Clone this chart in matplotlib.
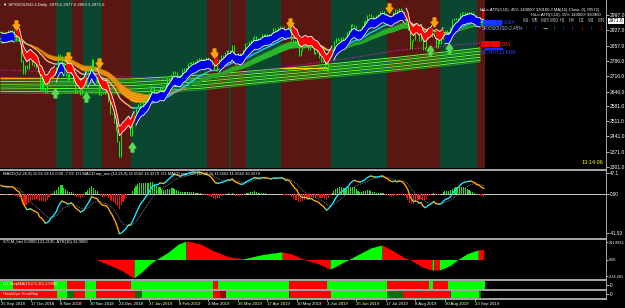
import numpy as np
import matplotlib
matplotlib.use("Agg")
import matplotlib.pyplot as plt
from matplotlib.path import Path
from matplotlib.lines import Line2D
from matplotlib.patches import Rectangle

W, H = 625, 308
PX = 1.85  # pixels per daily bar in the reference
plt.rcParams['font.family'] = ['Liberation Sans', 'DejaVu Sans']

# closes before the first visible bar, only used to warm the averages up
warmup_close = [2821.93, 2839.96, 2818.37, 2840.69, 2850.13, 2857.05, 2862.96, 2861.82,
                2856.98, 2874.69, 2896.74, 2897.52, 2914.04, 2901.13, 2901.52, 2900.00,
                2896.72, 2888.60, 2878.05, 2871.68, 2877.13, 2887.89, 2888.92, 2904.18,
                2904.98, 2888.80, 2904.31, 2907.95, 2930.75, 2929.67, 2919.37]

# SPX500USD daily closes, 25 Sep 2018 .. 30 Sep 2019
close = [
    2915.56, 2905.97, 2914.00, 2913.98,
    2924.59, 2923.43, 2925.51, 2901.61, 2885.57, 2884.43, 2880.34, 2785.68, 2728.37, 2767.13,
    2750.79, 2809.92, 2809.21, 2768.78, 2767.78, 2755.88, 2740.69, 2656.10, 2705.57, 2658.69,
    2641.25, 2682.63, 2711.74,
    2740.37, 2723.06, 2738.31, 2755.45, 2813.89, 2806.83, 2781.01, 2726.22, 2722.18, 2701.58,
    2730.20, 2736.27, 2690.73, 2641.89, 2649.93, 2650.00, 2632.56, 2673.45, 2682.17, 2743.79,
    2737.80, 2760.17,
    2790.37, 2700.06, 2695.00, 2695.95, 2633.08, 2637.72, 2636.78, 2651.07, 2650.54, 2599.95,
    2545.94, 2546.16, 2506.96, 2467.42, 2416.62, 2351.10, 2467.70, 2488.83, 2485.74, 2506.85,
    2510.03, 2447.89, 2531.94, 2549.69, 2574.41, 2584.96, 2596.64, 2596.26, 2582.61, 2610.30,
    2616.10, 2635.96, 2670.71, 2668.00, 2632.90, 2638.70, 2642.33, 2664.76, 2643.85, 2640.00,
    2681.05, 2704.10,
    2706.53, 2724.87, 2737.70, 2731.61, 2706.05, 2707.88, 2709.80, 2744.73, 2753.03, 2745.73,
    2775.60, 2777.00, 2779.76, 2784.70, 2774.88, 2792.67, 2796.11, 2793.90, 2792.38, 2784.49,
    2803.69, 2792.81, 2789.65, 2771.45, 2748.93, 2743.07, 2783.30, 2791.52, 2810.92, 2808.48,
    2822.48, 2832.94, 2832.57, 2824.23, 2854.88, 2800.71, 2798.36, 2818.46, 2805.37, 2815.44,
    2834.40,
    2867.19, 2867.24, 2873.40, 2879.39, 2892.74, 2895.77, 2878.20, 2888.21, 2888.32, 2907.41,
    2905.58, 2907.06, 2900.45, 2905.03, 2907.97, 2933.68, 2927.25, 2926.17, 2939.88, 2943.03,
    2945.83,
    2923.73, 2917.52, 2945.64, 2932.47, 2884.05, 2879.42, 2870.72, 2881.40, 2811.87, 2834.41,
    2850.96, 2876.32, 2859.53, 2840.23, 2864.36, 2856.27, 2822.24, 2826.06, 2830.00, 2802.39,
    2783.02, 2788.86, 2752.06,
    2744.45, 2803.27, 2826.15, 2843.49, 2873.34, 2886.73, 2885.72, 2879.84, 2891.64, 2886.98,
    2889.67, 2917.75, 2926.46, 2954.18, 2950.46, 2945.35, 2917.38, 2913.78, 2924.92, 2941.76,
    2964.33, 2973.01, 2995.82, 2997.00, 2990.41, 2975.95, 2979.63, 2993.07, 2999.91, 3013.77,
    3014.30, 3004.04, 2984.42, 2995.11, 2976.61, 2985.03, 3005.47, 3019.56, 3003.67, 3025.86,
    3020.97, 3013.18, 2980.38,
    2953.56, 2932.05, 2844.74, 2881.77, 2883.98, 2938.09, 2918.65, 2882.70, 2926.32, 2840.60,
    2847.60, 2888.68, 2923.65, 2900.51, 2924.43, 2922.95, 2847.11, 2878.38, 2869.16, 2887.94,
    2924.58, 2926.46,
    2915.00, 2906.27, 2937.78, 2976.00, 2978.71, 2978.43, 2979.39, 3000.93, 3009.57, 3007.39,
    2997.96, 3005.70, 3006.73, 3006.79, 2992.07, 2991.78, 2966.60, 2984.87, 2977.62, 2961.79,
    2971.60]

date_pos = [0, 16, 32, 48, 64, 80, 96, 112, 128, 144, 160, 176, 192, 208, 224, 240, 256]
date_labels = ["25 Sep 2018", "17 Oct 2018", "8 Nov 2018", "30 Nov 2018", "24 Dec 2018",
               "17 Jan 2019", "8 Feb 2019", "4 Mar 2019", "26 Mar 2019", "17 Apr 2019",
               "10 May 2019", "3 Jun 2019", "25 Jun 2019", "17 Jul 2019", "8 Aug 2019",
               "30 Aug 2019", "23 Sep 2019"]
price_ticks = [2997.0, 2927.0, 2857.0, 2786.0, 2716.0, 2646.0, 2581.0, 2511.0, 2441.0,
               2371.0, 2301.0]

# trend background (r = dark red, g = dark green)
band_start = [0, 30, 39, 45, 55, 71, 112, 124, 125, 133, 152, 179, 209, 238, 258]
band_col = ['r', 'g', 'r', 'g', 'r', 'g', 'r', 'g', 'r', 'g', 'r', 'g', 'r', 'g', 'r']

# long moving-average fan, top and bottom edge
fan_bar = [0, 70, 108, 162, 216, 259]
fan_top = [2708, 2704, 2722, 2759, 2805, 2846]
fan_bot = [2640, 2635, 2654, 2699, 2741, 2782]

# DAY 200 EMA (magenta dotted)
ema200_bar = [0, 32, 54, 76, 90, 108, 135, 162, 189, 216, 259]
ema200_val = [2745, 2736, 2722, 2709, 2699, 2713, 2736, 2768, 2800, 2837, 2869]

# signal arrows
dn_bar = [8, 36, 53, 115, 156, 210, 234]
dn_price = [2951, 2805, 2777, 2823, 2960, 3029, 2965]
up_bar = [29, 46, 71, 232, 242]
up_price = [2640, 2621, 2393, 2837, 2846]

# STLM histogram outline
stlm_bar = [52, 59, 65, 70, 72, 76, 81, 84, 90, 96, 100, 101, 108, 115, 123, 130, 131, 141,
            152, 157, 164, 171, 178, 184, 188, 200, 206, 212, 218, 221, 228, 233, 234, 237,
            243, 247, 252, 258, 261]
stlm_val = [-5, -81, -150, -230, -256, -175, -54, 0, 95, 216, 256, 256, 216, 122, 40, 13, 10,
            67, 108, 81, 0, -54, -135, -54, 0, 162, 203, 122, 27, 0, -108, -148, -145, -148,
            -81, 0, 81, 135, 140]
stlm_seg_start = [52, 72, 100, 131, 152, 178, 206, 233, 234, 237, 258]
stlm_seg_col = ['r', 'g', 'r', 'g', 'r', 'g', 'r', 'g', 'r', 'g', 'r']

step_start = [0, 7, 29, 36, 46, 52, 71, 115, 118, 156, 177, 209, 232, 234, 242]
step_col = ['g', 'r', 'g', 'r', 'g', 'r', 'g', 'r', 'g', 'r', 'g', 'r', 'g', 'r', 'g']
heat_start = [0, 31, 36, 40, 46, 52, 73, 77, 115, 119, 122, 156, 157, 179, 209, 218, 243,
              244, 259]
heat_col = ['r', 'g', 'G', 'r', 'g', 'r', 'G', 'g', 'r', 'R', 'g', 'R', 'r', 'g', 'G', 'r',
            'G', 'g', 'G']

tf_labels = ["M1", "M5", "M15", "M30", "H1", "H4", "D1", "W1", "MN"]
tf_arrows = ["↑", "↑", "→", "↑", "↑", "↓", "↓", "↑", "↓"]
tf_colors = ["#2846ff", "#2846ff", "white", "#00bfff", "#2846ff", "#ff00ff", "#ff2020",
             "#2846ff", "#ff2020"]
tf_x = [526, 535, 545, 554, 563, 572, 582, 591, 601]

RIBBON_W = 42  # width of the HiLo ribbon in price points
BAND = {'r': '#5a1712', 'g': '#0b4631'}
ROW = {'r': '#ff0000', 'g': '#00ff00', 'G': '#0a6e0a', 'R': '#8b0000'}


def ema(v, n):
    out = np.empty(len(v))
    a = 2.0 / (n + 1)
    out[0] = v[0]
    for i in range(1, len(v)):
        out[i] = out[i - 1] + a * (v[i] - out[i - 1])
    return out


def runs(mask):
    out = []
    s = 0
    for i in range(1, len(mask) + 1):
        if i == len(mask) or mask[i] != mask[s]:
            out.append((s, i, bool(mask[s])))
            s = i
    return out


def rect(x0, y0, x1, y1):
    return [x0 / W, 1 - y1 / H, (x1 - x0) / W, (y1 - y0) / H]


def two_color(ax, x, y, mask, c1, c2, **kw):
    for s, e, up in runs(mask):
        sl = slice(max(s - 1, 0), e)
        ax.plot(x[sl], y[sl], color=c1 if up else c2, **kw)


full = np.array(warmup_close + close)
n0 = len(warmup_close)
c = np.array(close)
n = len(c)
x = np.arange(n)
E = {p: ema(full, p)[n0:] for p in [5, 13, 30, 40, 45, 50, 55, 60]}

fig = plt.figure(figsize=(W / 100, H / 100), dpi=100, facecolor='black')
ax = fig.add_axes(rect(0, 0, 606, 168))
axm = fig.add_axes(rect(0, 171, 606, 237), sharex=ax)
axs = fig.add_axes(rect(0, 240, 606, 279), sharex=ax)
axp = fig.add_axes(rect(0, 281, 606, 289), sharex=ax)
axh = fig.add_axes(rect(0, 290, 606, 298), sharex=ax)

for a in [ax, axm, axs, axp, axh]:
    a.set_facecolor('black')
    for sp in a.spines.values():
        sp.set_visible(False)
    a.tick_params(axis='x', bottom=False, labelbottom=False)
    a.tick_params(axis='y', left=False, labelleft=False, right=False, labelright=False)
ax.set_xlim(-0.5, 606 / PX - 0.5)

# ---- main chart ----
ax.set_ylim(2296.4, 3065.7)
ends = band_start[1:] + [n]
for s, e, col in zip(band_start, ends, band_col):
    ax.axvspan(s - 0.5, e - 0.5, color=BAND[col], lw=0, zorder=0)

fan_cols = ['#66ff33', '#1f9a1f']
for k in range(10):
    f = k / 9
    vals = np.array(fan_top) + (np.array(fan_bot) - np.array(fan_top)) * f
    ax.plot(fan_bar, vals, color=fan_cols[k % 2], lw=0.7, zorder=1)
ax.plot([0, 32], [2708, 2708], color='#ffa500', lw=0.8, zorder=1.2)
ax.plot([152, 176], [2754, 2754], color='#ffd700', lw=0.8, zorder=1.2)
ax.plot(ema200_bar, ema200_val, color='#d020d0', lw=0.8, ls=(0, (1, 1.5)), zorder=2)

# slow ribbon
trend = E[40] >= E[60]
for s, e, up in runs(trend):
    sl = slice(s, min(e + 1, n))
    ax.fill_between(x[sl], E[40][sl], E[60][sl], color='#36d236' if up else '#ffa31a',
                    lw=0, zorder=3)
for p in [40, 45, 50, 55, 60]:
    two_color(ax, x, E[p], trend, '#1c8c1c', '#c87800', lw=0.4, zorder=3.2)
two_color(ax, x, E[30], np.diff(E[30], prepend=E[30][0]) >= 0, '#1ec8ff', '#ffb070',
          lw=1.0, zorder=3.5)

# price bars
prev = np.concatenate([[full[n0 - 1]], c[:-1]])
ax.vlines(x, np.minimum(prev, c) - 3, np.maximum(prev, c) + 3, color='#00ff00', lw=0.7,
          zorder=4)

# fast HiLo ribbon: below the average while rising, above it while falling
fast_up = E[5] >= E[13]
edge = np.where(fast_up, E[5] - RIBBON_W, E[5] + RIBBON_W)
for s, e, up in runs(fast_up):
    sl = slice(s, e)
    ax.fill_between(x[sl], E[5][sl], edge[sl], color='#0000e6' if up else '#ff0000',
                    lw=0, zorder=5)
    ax.plot(x[sl], edge[sl], color='white', lw=0.6, zorder=5.5)
ax.plot(x, E[5], color='white', lw=0.6, zorder=5.5)

dn = Path([(-0.3, 1), (0.3, 1), (0.3, 0.1), (0.75, 0.1), (0, -1), (-0.75, 0.1), (-0.3, 0.1),
           (-0.3, 1)], [Path.MOVETO] + [Path.LINETO] * 6 + [Path.CLOSEPOLY])
up_path = Path(dn.vertices * [1, -1], dn.codes)
ax.plot(dn_bar, dn_price, ls='none', marker=dn, ms=6.5, color='#ffa500', zorder=7)
ax.plot(up_bar, up_price, ls='none', marker=up_path, ms=6.5, color='#55dd55', zorder=7)

ax.yaxis.tick_right()
ax.set_yticks(price_ticks)
ax.set_yticklabels([f"{v:.1f}" for v in price_ticks])
ax.tick_params(axis='y', right=True, labelright=True, colors='white', labelsize=3.6,
               length=2, width=0.5, pad=1)

# ---- MACD (plotted in pixel units above / below the zero line) ----
macd = (ema(full, 12) - ema(full, 26))
sig = ema(macd, 9)
macd, sig = macd[n0:], sig[n0:]
hist = macd - sig
k_pos = 22.0 / macd[85:120].max()   # February high touches the top of the panel
k_neg = 39.5 / -macd.min()          # December low near the bottom


def to_px(v):
    return np.clip(np.where(v >= 0, v * k_pos, v * k_neg), -43, 22.8)


axm.set_ylim(-43, 23)
axm.axhline(0, color='#c8c8c8', lw=0.7, zorder=1)
axm.bar(x, to_px(hist), width=0.6, color=np.where(hist >= 0, '#22e022', '#ff1010'), zorder=2)
axm.plot(x, to_px(sig), color='#a0a0a0', lw=0.6, ls=(0, (1, 1.2)), zorder=3)
two_color(axm, x, to_px(macd), np.diff(macd, prepend=macd[0]) >= 0, '#19e6ff', '#ffa500',
          lw=1.0, zorder=4)
axm.yaxis.tick_right()
axm.set_yticks([21, 0, -39])
axm.set_yticklabels(["47.1", "0.00", "-41.93"])
axm.tick_params(axis='y', right=True, labelright=True, colors='white', labelsize=3.3,
                length=2, width=0.5, pad=1)

# ---- STLM ----
axs.set_ylim(-272, 272)
seg_end = stlm_seg_start[1:] + [stlm_bar[-1]]
sb = np.array(stlm_bar)
sv = np.array(stlm_val, dtype=float)
for s0, e0, col in zip(stlm_seg_start, seg_end, stlm_seg_col):
    m = (sb >= s0) & (sb <= e0)
    axs.fill_between(sb[m], sv[m], 0, color=ROW[col], lw=0)
axs.yaxis.tick_right()
axs.set_yticks([241.8851, 0, -234.281])
axs.set_yticklabels(["241.8851", "0.00", "-234.281"])
axs.tick_params(axis='y', right=True, labelright=True, colors='white', labelsize=2.7,
                length=1.5, width=0.5, pad=0.5)

# ---- StepMA / HeatMap rows ----
for a, starts, cols, end in [(axp, step_start, step_col, n), (axh, heat_start, heat_col, 260)]:
    a.set_ylim(0, 1)
    for s0, e0, col in zip(starts, starts[1:] + [end], cols):
        a.axvspan(s0 - 0.5, e0 - 0.5, color=ROW[col], lw=0)
    a.yaxis.tick_right()
    a.set_yticks([0.5])
    a.set_yticklabels(["0"])
    a.tick_params(axis='y', right=True, labelright=True, colors='white', labelsize=3.3,
                  length=2, width=0.5, pad=1)

axh.set_xticks(date_pos)
axh.set_xticklabels(date_labels, ha='left')
axh.tick_params(axis='x', bottom=True, labelbottom=True, colors='white', labelsize=3.1,
                length=2, width=0.5, pad=1.2)

# ---- frame lines ----
def hline(y, lw=1.4, color='#a8a8a8'):
    fig.add_artist(Line2D([0, 606 / W], [1 - y / H] * 2, transform=fig.transFigure,
                          color=color, lw=lw))

for yy in [169.5, 238.5, 280, 289.5, 298.5]:
    hline(yy)
fig.add_artist(Line2D([606 / W] * 2, [1 - 298.5 / H, 1], transform=fig.transFigure,
                      color='#a8a8a8', lw=0.7))


def ftext(x0, y0, txt, color='white', size=3.1, **kw):
    fig.text(x0 / W, 1 - y0 / H, txt, color=color, fontsize=size, va='center', **kw)


def frect(x0, y0, x1, y1, color):
    fig.add_artist(Rectangle((x0 / W, 1 - y1 / H), (x1 - x0) / W, (y1 - y0) / H,
                             transform=fig.transFigure, color=color, lw=0))


ftext(3, 5, "▼ SPX500USD-2,Daily  2975.5 2977.6 2963.3 2971.6")
ftext(480, 10, "HiLo-ATR(3,10): 45% 143000/ 320100 // MA(15)-Close: 0(-70572)", size=3.0)
ftext(531, 15, "HiLo-ATR(3,10): 15% 143000/ 920900", size=3.0)
for lbl, arr, col, xx in zip(tf_labels, tf_arrows, tf_colors, tf_x):
    ftext(xx, 21, lbl, color='#b4b4b4', size=3.3, ha='center')
    ftext(xx, 28, arr, color=col, size=5, ha='center', fontweight='bold')

frect(483, 20.5, 502, 25.5, '#1432ff')
ftext(483, 23, "WEEK 13 EMA", color='#2846ff', size=3.3)
ftext(482, 28.5, "SPX500USD-2.45%", color='#a8b8d8', size=3.3)
frect(481, 41.5, 500, 46.5, '#e00000')
ftext(481, 44, "DAY 200 EMA", color='#ff1a1a', size=3.3)
frect(485, 48, 503, 50, '#1432ff')
ftext(481, 52, "MONTH 13 EMA", color='#2846ff', size=3.3)
ftext(582, 163, "13:14:06", color='#ffff00', size=4)
ftext(608.5, 21, "2971.6", color='black', size=3.4,
      bbox=dict(facecolor='white', edgecolor='none', pad=0.5))

ftext(3, 174.5, "MACD(12,26,9) 11.56 19.15 0.00 -7.59  D1 MACD mp_osc (12,26,9) 11.5562 "
      "16.3279  D1 MACD mp_osc (12,26,9) 11.5562 11.5562 16.3279", size=3.0)
ftext(3, 242, "STLM_hist 0.0000 121.2135  ATR(10) 32.0000", size=3.0)
ftext(3, 284.5, "D1 StepMA(15,0.5,10) 1.0000", size=3.0)
ftext(3, 293.7, "HawkEye HeatMap", size=3.0)

fig.savefig("out.png", dpi=100, facecolor='black')
